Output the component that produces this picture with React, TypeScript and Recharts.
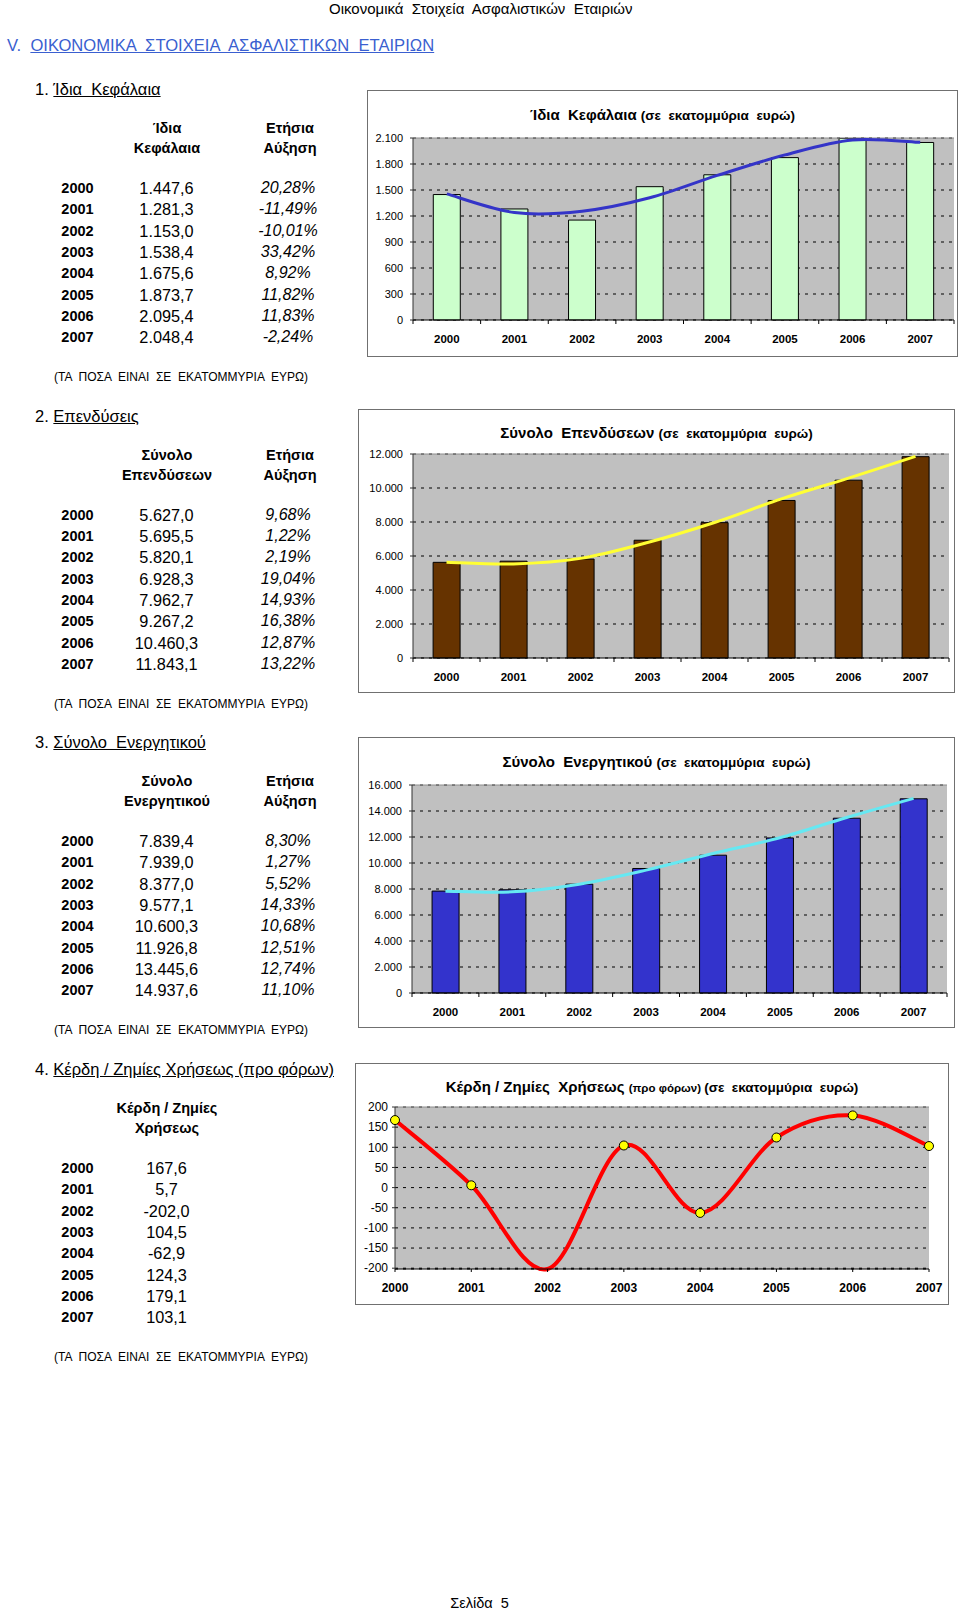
import React from 'react';
import {
  ComposedChart,
  LineChart,
  Bar,
  Line,
  XAxis,
  YAxis,
  CartesianGrid,
  ReferenceLine,
} from 'recharts';

const FONT = '"Liberation Sans", Arial, sans-serif';

// ---- data ----
const years = ['2000', '2001', '2002', '2003', '2004', '2005', '2006', '2007'];

const idiaKefalaia = [1447.6, 1281.3, 1153.0, 1538.4, 1675.6, 1873.7, 2095.4, 2048.4];
const idiaGrowth = [20.28, -11.49, -10.01, 33.42, 8.92, 11.82, 11.83, -2.24];
const idiaTrend = [1455, 1240, 1255, 1410, 1668, 1905, 2078, 2050];
const idiaTicks = [0, 300, 600, 900, 1200, 1500, 1800, 2100];

const ependyseis = [5627.0, 5695.5, 5820.1, 6928.3, 7962.7, 9267.2, 10460.3, 11843.1];
const ependyseisGrowth = [9.68, 1.22, 2.19, 19.04, 14.93, 16.38, 12.87, 13.22];
const ependyseisTrend = [5630, 5530, 5860, 6790, 7970, 9360, 10580, 11860];
const ependyseisTicks = [0, 2000, 4000, 6000, 8000, 10000, 12000];

const energitiko = [7839.4, 7939.0, 8377.0, 9577.1, 10600.3, 11926.8, 13445.6, 14937.6];
const energitikoGrowth = [8.30, 1.27, 5.52, 14.33, 10.68, 12.51, 12.74, 11.10];
const energitikoTrend = [7830, 7780, 8370, 9450, 10730, 11940, 13500, 14970];
const energitikoTicks = [0, 2000, 4000, 6000, 8000, 10000, 12000, 14000, 16000];

const kerdi = [167.6, 5.7, -202.0, 104.5, -62.9, 124.3, 179.1, 103.1];
const kerdiTicks = [-200, -150, -100, -50, 0, 50, 100, 150, 200];

const NOTE = '(ΤΑ  ΠΟΣΑ  ΕΙΝΑΙ  ΣΕ  ΕΚΑΤΟΜΜΥΡΙΑ  ΕΥΡΩ)';

// ---- formatting ----
const dots = (s: string) => s.replace(/\B(?=(\d{3})+(?!\d))/g, '.');
const fmtTick = (n: number) => (n < 0 ? '-' : '') + dots(String(Math.abs(n)));
const fmtValue = (n: number) => {
  const [i, d] = Math.abs(n).toFixed(1).split('.');
  return (n < 0 ? '-' : '') + dots(i) + ',' + d;
};
const fmtPct = (n: number) => n.toFixed(2).replace('.', ',') + '%';

// excel-like smoothing (catmull-rom as beziers)
const smoothCurve = (context: any) => {
  let pts: number[][] = [];
  return {
    areaStart() {},
    areaEnd() {},
    lineStart() {
      pts = [];
    },
    point(x: number, y: number) {
      pts.push([x, y]);
    },
    lineEnd() {
      if (!pts.length) return;
      context.moveTo(pts[0][0], pts[0][1]);
      for (let i = 0; i < pts.length - 1; i++) {
        const p0 = pts[i - 1] ?? pts[i];
        const p1 = pts[i];
        const p2 = pts[i + 1];
        const p3 = pts[i + 2] ?? p2;
        context.bezierCurveTo(
          p1[0] + (p2[0] - p0[0]) / 6,
          p1[1] + (p2[1] - p0[1]) / 6,
          p2[0] - (p3[0] - p1[0]) / 6,
          p2[1] - (p3[1] - p1[1]) / 6,
          p2[0],
          p2[1]
        );
      }
    },
  };
};

// ---- small text helpers ----
const Txt = ({ x, y, size = 16, w, style, children }: any) => (
  <div
    style={{
      position: 'absolute',
      left: w ? x - w / 2 : x,
      top: y - 11,
      width: w,
      lineHeight: '22px',
      fontSize: size,
      textAlign: w ? 'center' : 'left',
      whiteSpace: 'pre',
      ...style,
    }}
  >
    {children}
  </div>
);

type SectionProps = {
  y: number;
  num: string;
  title: string;
  head1: string[];
  head2?: string[];
  values: number[];
  growth?: number[];
};

const Section = ({ y, num, title, head1, head2, values, growth }: SectionProps) => (
  <>
    <Txt x={35} y={y} size={16.5}>
      {num + ' '}
      <span style={{ textDecoration: 'underline' }}>{title}</span>
    </Txt>
    {head1.map((h, i) => (
      <Txt key={'a' + i} x={167} w={160} y={y + 39 + i * 20} size={14.5} style={{ fontWeight: 'bold' }}>
        {h}
      </Txt>
    ))}
    {head2 &&
      head2.map((h, i) => (
        <Txt key={'b' + i} x={290} w={140} y={y + 39 + i * 20} size={14.5} style={{ fontWeight: 'bold' }}>
          {h}
        </Txt>
      ))}
    {years.map((yr, i) => (
      <React.Fragment key={yr}>
        <Txt x={77.5} w={60} y={y + 99 + i * 21.3} size={14.5} style={{ fontWeight: 'bold' }}>
          {yr}
        </Txt>
        <Txt x={166.5} w={120} y={y + 99 + i * 21.3} size={16.3}>
          {fmtValue(values[i])}
        </Txt>
        {growth && (
          <Txt x={288} w={120} y={y + 99 + i * 21.3} size={16} style={{ fontStyle: 'italic' }}>
            {fmtPct(growth[i])}
          </Txt>
        )}
      </React.Fragment>
    ))}
    <Txt x={181} w={320} y={y + 288} size={12}>
      {NOTE}
    </Txt>
  </>
);

// ---- axis ticks ----
const BandTick = (props: any) => {
  const { x, y, payload } = props;
  const half = typeof payload?.offset === 'number' ? payload.offset : 0;
  const last = payload?.index === years.length - 1;
  return (
    <g>
      {half > 0 && <line x1={x - half} x2={x - half} y1={y} y2={y + 4} stroke="#000" />}
      {half > 0 && last && <line x1={x + half} x2={x + half} y1={y} y2={y + 4} stroke="#000" />}
      <text
        x={x}
        y={y + 19}
        textAnchor="middle"
        dominantBaseline="central"
        fontSize={11.5}
        fontWeight="bold"
        fontFamily={FONT}
        fill="#000"
      >
        {payload.value}
      </text>
    </g>
  );
};

const PointTick = (props: any) => {
  const { x, y, payload } = props;
  return (
    <text
      x={x}
      y={y + 16}
      textAnchor="middle"
      dominantBaseline="central"
      fontSize={12}
      fontWeight="bold"
      fontFamily={FONT}
      fill="#000"
    >
      {payload.value}
    </text>
  );
};

const KerdiDot = (props: any) => {
  const { cx, cy, payload } = props;
  // excel leaves out the marker that falls below the axis minimum
  if (payload == null || payload.value < -200) return <g />;
  return <circle cx={cx} cy={cy} r={4.5} fill="#ffff00" stroke="#000" strokeWidth={1} />;
};

// ---- framed bar chart ----
type Box = [number, number, number, number];

type BarBoxProps = {
  frame: Box;
  plot: Box;
  titleY: number;
  title: React.ReactNode;
  values: number[];
  trend: number[];
  ticks: number[];
  barColor: string;
  trendColor: string;
};

const Frame = ({ frame }: { frame: Box }) => (
  <div
    style={{
      position: 'absolute',
      left: frame[0],
      top: frame[1],
      width: frame[2] - frame[0],
      height: frame[3] - frame[1],
      border: '1px solid #707070',
      boxSizing: 'border-box',
    }}
  />
);

const Title = ({ frame, y, children }: any) => (
  <div
    style={{
      position: 'absolute',
      left: frame[0],
      width: frame[2] - frame[0],
      top: y - 11,
      lineHeight: '22px',
      textAlign: 'center',
      fontWeight: 'bold',
      whiteSpace: 'pre',
    }}
  >
    {children}
  </div>
);

const BarBox = ({ frame, plot, titleY, title, values, trend, ticks, barColor, trendColor }: BarBoxProps) => {
  const data = years.map((year, i) => ({ year, value: values[i], trend: trend[i] }));
  const max = ticks[ticks.length - 1];
  return (
    <>
      <Frame frame={frame} />
      <Title frame={frame} y={titleY}>
        {title}
      </Title>
      <div style={{ position: 'absolute', left: frame[0], top: frame[1] }}>
        <ComposedChart
          width={frame[2] - frame[0]}
          height={frame[3] - frame[1]}
          data={data}
          margin={{ top: plot[1] - frame[1], right: frame[2] - plot[2], bottom: 0, left: 0 }}
          barCategoryGap="30%"
        >
          <CartesianGrid fill="#c0c0c0" vertical={false} stroke="#000" strokeDasharray="3 5" />
          <XAxis
            dataKey="year"
            height={frame[3] - plot[3]}
            interval={0}
            tickLine={false}
            tickSize={0}
            tickMargin={0}
            axisLine={{ stroke: '#000' }}
            tick={<BandTick />}
          />
          <YAxis
            width={plot[0] - frame[0]}
            domain={[0, max]}
            ticks={ticks}
            interval={0}
            tickSize={3}
            tickMargin={7}
            tickFormatter={fmtTick}
            axisLine={{ stroke: '#333' }}
            tickLine={{ stroke: '#333' }}
            tick={{ fontSize: 11, fill: '#000', fontFamily: FONT }}
          />
          <YAxis
            yAxisId="edge"
            orientation="right"
            width={0}
            domain={[0, max]}
            tick={false}
            tickLine={false}
            axisLine={{ stroke: '#808080' }}
          />
          <ReferenceLine y={max} stroke="#8c8c8c" />
          <Bar dataKey="value" fill={barColor} stroke="#000" strokeWidth={1} isAnimationActive={false} />
          <Line
            dataKey="trend"
            type={smoothCurve as any}
            stroke={trendColor}
            strokeWidth={3}
            dot={false}
            activeDot={false}
            isAnimationActive={false}
          />
        </ComposedChart>
      </div>
    </>
  );
};

const KerdiBox = () => {
  const frame: Box = [355, 1063, 949, 1305];
  const plot: Box = [395, 1107, 929, 1269];
  const data = years.map((year, i) => ({ year, value: kerdi[i] }));
  return (
    <>
      <Frame frame={frame} />
      <Title frame={frame} y={1087}>
        <span style={{ fontSize: 15 }}>{'Κέρδη / Ζημίες  Χρήσεως '}</span>
        <span style={{ fontSize: 11.5 }}>{'(προ φόρων) '}</span>
        <span style={{ fontSize: 13.5 }}>{'(σε  εκατομμύρια  ευρώ)'}</span>
      </Title>
      <div style={{ position: 'absolute', left: frame[0], top: frame[1] }}>
        <LineChart
          width={frame[2] - frame[0]}
          height={frame[3] - frame[1]}
          data={data}
          margin={{ top: plot[1] - frame[1], right: frame[2] - plot[2], bottom: 0, left: 0 }}
        >
          <CartesianGrid fill="#c0c0c0" vertical={false} stroke="#000" strokeDasharray="3 5" />
          <XAxis
            dataKey="year"
            height={frame[3] - plot[3]}
            interval={0}
            tickSize={3}
            tickMargin={0}
            axisLine={{ stroke: '#000' }}
            tickLine={{ stroke: '#000' }}
            tick={<PointTick />}
          />
          <YAxis
            width={plot[0] - frame[0]}
            domain={[-200, 200]}
            ticks={kerdiTicks}
            interval={0}
            tickSize={3}
            tickMargin={4}
            tickFormatter={fmtTick}
            axisLine={{ stroke: '#333' }}
            tickLine={{ stroke: '#333' }}
            tick={{ fontSize: 12, fill: '#000', fontFamily: FONT }}
          />
          <YAxis
            yAxisId="edge"
            orientation="right"
            width={0}
            domain={[-200, 200]}
            tick={false}
            tickLine={false}
            axisLine={{ stroke: '#808080' }}
          />
          <ReferenceLine y={200} stroke="#8c8c8c" />
          <Line
            dataKey="value"
            type={smoothCurve as any}
            stroke="#ff0000"
            strokeWidth={4}
            dot={<KerdiDot />}
            activeDot={false}
            isAnimationActive={false}
          />
        </LineChart>
      </div>
    </>
  );
};

export default function App() {
  return (
    <div
      style={{
        position: 'absolute',
        left: 0,
        top: 0,
        width: 960,
        height: 1614,
        background: '#fff',
        fontFamily: FONT,
        color: '#000',
        overflow: 'hidden',
      }}
    >
      <Txt x={329} y={9} size={15}>
        {'Οικονομικά  Στοιχεία  Ασφαλιστικών  Εταιριών'}
      </Txt>
      <Txt x={7} y={46} size={16.6} style={{ color: '#3a5fd0' }}>
        {'V.  '}
        <span style={{ textDecoration: 'underline' }}>{'ΟΙΚΟΝΟΜΙΚΑ  ΣΤΟΙΧΕΙΑ  ΑΣΦΑΛΙΣΤΙΚΩΝ  ΕΤΑΙΡΙΩΝ'}</span>
      </Txt>

      <Section
        y={89}
        num="1."
        title={'Ίδια  Κεφάλαια'}
        head1={['Ίδια', 'Κεφάλαια']}
        head2={['Ετήσια', 'Αύξηση']}
        values={idiaKefalaia}
        growth={idiaGrowth}
      />
      <Section
        y={415.7}
        num="2."
        title="Επενδύσεις"
        head1={['Σύνολο', 'Επενδύσεων']}
        head2={['Ετήσια', 'Αύξηση']}
        values={ependyseis}
        growth={ependyseisGrowth}
      />
      <Section
        y={742}
        num="3."
        title={'Σύνολο  Ενεργητικού'}
        head1={['Σύνολο', 'Ενεργητικού']}
        head2={['Ετήσια', 'Αύξηση']}
        values={energitiko}
        growth={energitikoGrowth}
      />
      <Section
        y={1069}
        num="4."
        title={'Κέρδη / Ζημίες Χρήσεως (προ φόρων)'}
        head1={['Κέρδη / Ζημίες', 'Χρήσεως']}
        values={kerdi}
      />

      <BarBox
        frame={[367, 90, 958, 357]}
        plot={[413, 138, 954, 320]}
        titleY={115}
        title={
          <>
            <span style={{ fontSize: 15 }}>{'Ίδια  Κεφάλαια '}</span>
            <span style={{ fontSize: 13.5 }}>{'(σε  εκατομμύρια  ευρώ)'}</span>
          </>
        }
        values={idiaKefalaia}
        trend={idiaTrend}
        ticks={idiaTicks}
        barColor="#ccffcc"
        trendColor="#3434c8"
      />
      <BarBox
        frame={[358, 409, 955, 693]}
        plot={[413, 454, 949, 658]}
        titleY={433}
        title={
          <>
            <span style={{ fontSize: 15 }}>{'Σύνολο  Επενδύσεων '}</span>
            <span style={{ fontSize: 13.5 }}>{'(σε  εκατομμύρια  ευρώ)'}</span>
          </>
        }
        values={ependyseis}
        trend={ependyseisTrend}
        ticks={ependyseisTicks}
        barColor="#663300"
        trendColor="#ffff33"
      />
      <BarBox
        frame={[358, 737, 955, 1028]}
        plot={[412, 785, 947, 993]}
        titleY={762}
        title={
          <>
            <span style={{ fontSize: 15 }}>{'Σύνολο  Ενεργητικού '}</span>
            <span style={{ fontSize: 13.5 }}>{'(σε  εκατομμύρια  ευρώ)'}</span>
          </>
        }
        values={energitiko}
        trend={energitikoTrend}
        ticks={energitikoTicks}
        barColor="#3333cc"
        trendColor="#66e8f2"
      />
      <KerdiBox />

      <Txt x={479.5} w={120} y={1603} size={14.5}>
        {'Σελίδα  5'}
      </Txt>
    </div>
  );
}
